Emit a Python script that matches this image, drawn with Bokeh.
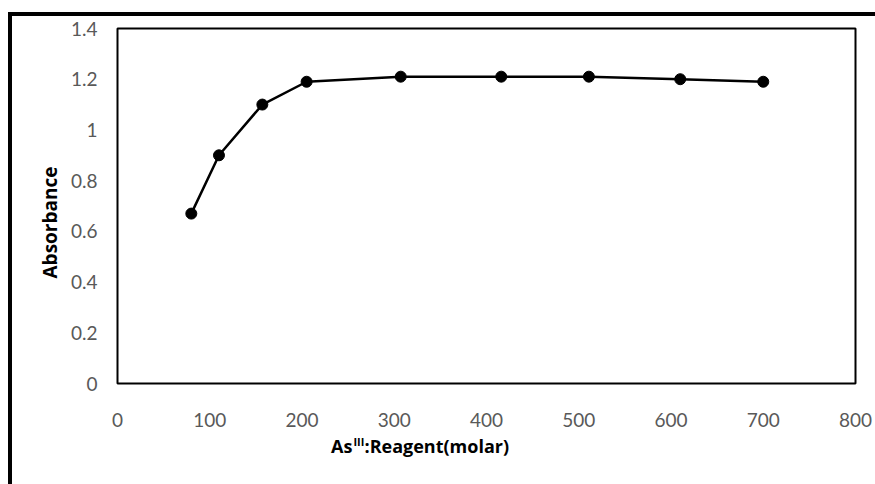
from bokeh.plotting import figure
from bokeh.models import Range1d, FixedTicker, Label, Title
from bokeh.layouts import column
from bokeh.embed import file_html
from bokeh.resources import INLINE

# Molar ratio As(III):reagent vs. measured absorbance
ratio = [80, 110, 157, 205, 307, 416, 511, 610, 700]
absorbance = [0.67, 0.90, 1.10, 1.19, 1.21, 1.21, 1.21, 1.20, 1.19]

x_ticks = [0, 100, 200, 300, 400, 500, 600, 700, 800]
y_ticks = [0, 0.2, 0.4, 0.6, 0.8, 1.0, 1.2, 1.4]
y_tick_labels = ["0", "0.2", "0.4", "0.6", "0.8", "1", "1.2", "1.4"]

TICK_FONT = "Lato"
TITLE_FONT = "Open Sans"
TICK_COLOR = "#595959"

LEFT, RIGHT = 105, 20   # borders of the main chart around its frame
TOP, BOTTOM = 12, 52
FRAME_W, FRAME_H = 738, 355
CAP_H = 49              # strip under the chart carrying the x-axis title

p = figure(
    frame_width=FRAME_W, frame_height=FRAME_H,
    min_border_left=LEFT, min_border_right=RIGHT,
    min_border_top=TOP, min_border_bottom=BOTTOM,
    x_range=Range1d(0, 800), y_range=Range1d(0, 1.4),
    output_backend="svg", toolbar_location=None,
)
p.grid.visible = False
p.outline_line_color = "black"
p.outline_line_width = 2

for ax in (p.xaxis, p.yaxis):
    ax.axis_line_color = None
    ax.major_tick_line_color = None
    ax.minor_tick_line_color = None
    ax.major_label_text_font = TICK_FONT
    ax.major_label_text_font_size = "19px"
    ax.major_label_text_color = TICK_COLOR

p.xaxis.ticker = FixedTicker(ticks=x_ticks)
p.yaxis.ticker = FixedTicker(ticks=y_ticks)
p.yaxis.major_label_overrides = {t: s for t, s in zip(y_ticks, y_tick_labels)}
p.xaxis.major_tick_out = 0
p.xaxis.major_tick_in = 0
p.xaxis.axis_label_standoff = 0
p.xaxis.major_label_standoff = 29
p.yaxis.major_label_standoff = 14

p.line(ratio, absorbance, line_color="black", line_width=2.5)
p.scatter(ratio, absorbance, size=11, fill_color="black", line_color="black")

title_style = dict(text_font=TITLE_FONT, text_font_style="bold", text_color="black")

# y-axis title, started a little above the frame's bottom edge
p.add_layout(Title(text="Absorbance", align="left", offset=105, standoff=9,
                   text_font_size="19px", **title_style), "left")

# x-axis title with the superscript oxidation state
cap = figure(
    frame_width=FRAME_W, frame_height=CAP_H,
    min_border_left=LEFT, min_border_right=RIGHT,
    min_border_top=0, min_border_bottom=0,
    x_range=p.x_range, y_range=Range1d(0, CAP_H),
    x_axis_location=None, y_axis_location=None,
    output_backend="svg", toolbar_location=None,
)
cap.grid.visible = False
cap.outline_line_color = None
cap.add_layout(Label(x=254.7, y=CAP_H - 10, text="As", text_align="right",
                     text_baseline="alphabetic", text_font_size="18px", **title_style))
cap.add_layout(Label(x=255.8, y=CAP_H - 6, text="III", text_align="left",
                     text_baseline="alphabetic", text_font_size="11px", **title_style))
cap.add_layout(Label(x=267.8, y=CAP_H - 10, text=":Reagent(molar)", text_align="left",
                     text_baseline="alphabetic", text_font_size="18px", **title_style))

layout = column(p, cap, styles={
    "margin-top": "12px", "margin-left": "8px",
    "border-top": "4px solid black", "border-left": "4px solid black",
})

open("out.html", "w").write(file_html(layout, INLINE))
